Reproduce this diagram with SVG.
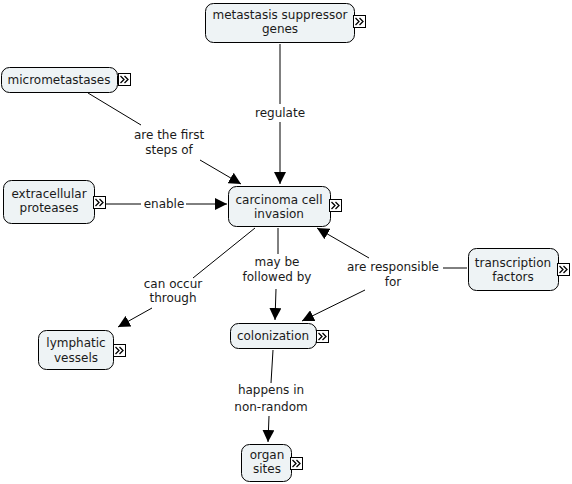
<svg xmlns="http://www.w3.org/2000/svg" width="572" height="484" viewBox="0 0 572 484">
<defs>
<style>
.n{fill:#eef3f5;stroke:#000;stroke-width:1}
.t{font-family:"DejaVu Sans",Verdana,sans-serif;font-size:12px;fill:#1a1a1a;text-anchor:middle}
.ic{fill:#fff;stroke:#000;stroke-width:1}
.ch{fill:none;stroke:#000;stroke-width:1.3}
.c{stroke:#000;stroke-width:1;fill:none}
</style>
<marker id="ah" markerUnits="userSpaceOnUse" markerWidth="14" markerHeight="12" refX="12" refY="6" orient="auto">
<path d="M0,0 L12,6 L0,12 Z" fill="#000"/>
</marker>
<g id="icon">
<rect class="ic" x="0.5" y="0.5" width="12" height="12"/>
<path class="ch" d="M2.5,3 L6,6.5 L2.5,10 M6.5,3 L10,6.5 L6.5,10"/>
</g>
</defs>
<rect width="572" height="484" fill="#fff"/>
<g id="connectors">
<line class="c" x1="280" y1="44" x2="280" y2="104"/>
<line class="c" x1="280" y1="122" x2="280" y2="184" marker-end="url(#ah)"/>
<text class="t" x="280" y="117">regulate</text>
<line class="c" x1="88" y1="93" x2="141" y2="125"/>
<line class="c" x1="200" y1="160" x2="241" y2="184" marker-end="url(#ah)"/>
<text class="t" x="169" y="139">are the first</text>
<text class="t" x="169" y="154">steps of</text>
<line class="c" x1="105" y1="204" x2="141" y2="204"/>
<line class="c" x1="186" y1="204" x2="227" y2="204" marker-end="url(#ah)"/>
<text class="t" x="164" y="208">enable</text>
<line class="c" x1="255" y1="228" x2="193" y2="278"/>
<line class="c" x1="152" y1="308" x2="118" y2="327" marker-end="url(#ah)"/>
<text class="t" x="173" y="288">can occur</text>
<text class="t" x="173" y="302">through</text>
<line class="c" x1="278" y1="228" x2="278" y2="254"/>
<line class="c" x1="276" y1="289" x2="275" y2="320" marker-end="url(#ah)"/>
<text class="t" x="277" y="266">may be</text>
<text class="t" x="277" y="281">followed by</text>
<line class="c" x1="467" y1="268" x2="443" y2="268"/>
<line class="c" x1="369" y1="258" x2="317" y2="228" marker-end="url(#ah)"/>
<line class="c" x1="365" y1="290" x2="302" y2="321" marker-end="url(#ah)"/>
<text class="t" x="393" y="271">are responsible</text>
<text class="t" x="393" y="286">for</text>
<line class="c" x1="273" y1="350" x2="271" y2="383"/>
<line class="c" x1="269" y1="416" x2="268" y2="442" marker-end="url(#ah)"/>
<text class="t" x="271" y="394">happens in</text>
<text class="t" x="271" y="411">non-random</text>
</g>
<g id="metastasis-suppressor-genes">
<rect class="n" x="205.5" y="3.5" width="149" height="39" rx="8"/>
<text class="t" x="280" y="19">metastasis suppressor</text>
<text class="t" x="280" y="33">genes</text>
<use href="#icon" x="353" y="15"/>
</g>
<g id="micrometastases">
<rect class="n" x="1.5" y="67.5" width="116" height="25" rx="8"/>
<text class="t" x="59" y="84">micrometastases</text>
<use href="#icon" x="118" y="73"/>
</g>
<g id="extracellular-proteases">
<rect class="n" x="3.5" y="180.5" width="91" height="43" rx="8"/>
<text class="t" x="49" y="198">extracellular</text>
<text class="t" x="49" y="212">proteases</text>
<use href="#icon" x="93" y="196"/>
</g>
<g id="carcinoma-cell-invasion">
<rect class="n" x="228.5" y="186.5" width="102" height="40" rx="8"/>
<text class="t" x="279" y="204">carcinoma cell</text>
<text class="t" x="279" y="218">invasion</text>
<use href="#icon" x="329" y="199"/>
</g>
<g id="transcription-factors">
<rect class="n" x="468.5" y="248.5" width="90" height="42" rx="8"/>
<text class="t" x="513" y="267">transcription</text>
<text class="t" x="513" y="281">factors</text>
<use href="#icon" x="557" y="263"/>
</g>
<g id="lymphatic-vessels">
<rect class="n" x="38.5" y="330.5" width="75" height="39" rx="8"/>
<text class="t" x="76" y="347">lymphatic</text>
<text class="t" x="76" y="362">vessels</text>
<use href="#icon" x="113" y="344"/>
</g>
<g id="colonization">
<rect class="n" x="230.5" y="323.5" width="86" height="25" rx="8"/>
<text class="t" x="273" y="340">colonization</text>
<use href="#icon" x="316" y="330"/>
</g>
<g id="organ-sites">
<rect class="n" x="241.5" y="444.5" width="50" height="37" rx="8"/>
<text class="t" x="267" y="459">organ</text>
<text class="t" x="267" y="473">sites</text>
<use href="#icon" x="290" y="457"/>
</g>
</svg>
